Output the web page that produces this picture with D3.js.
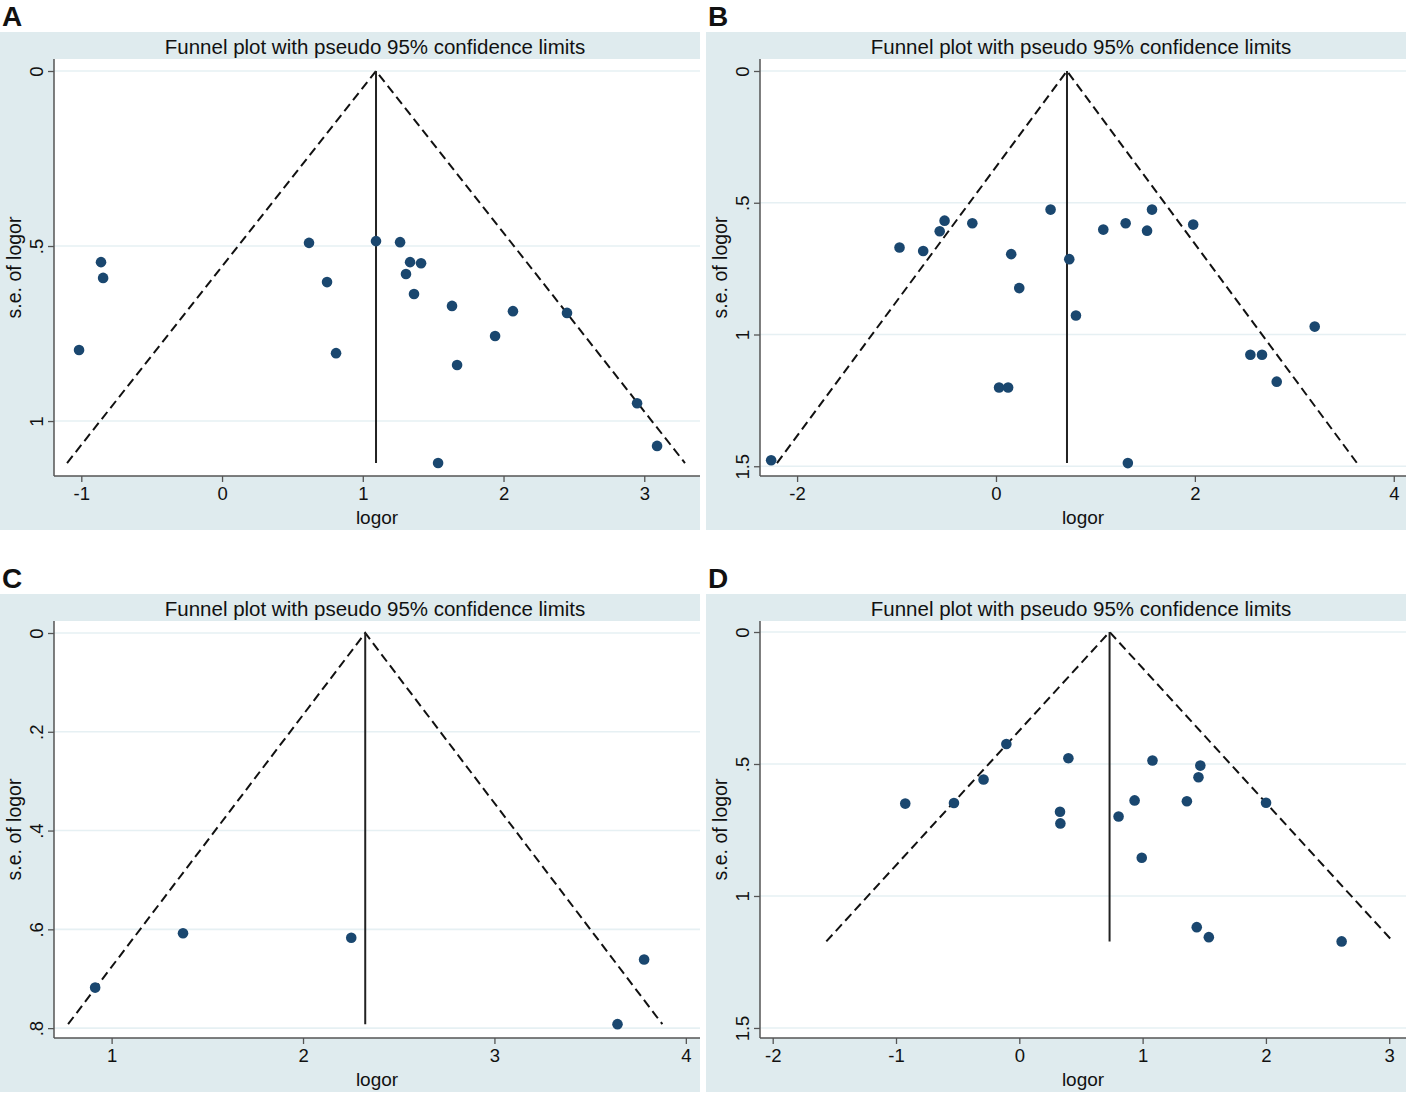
<!DOCTYPE html>
<html>
<head>
<meta charset="utf-8">
<script src="https://cdn.jsdelivr.net/npm/d3@7"></script>
<style>
  body { margin: 0; background: #fff; }
  text { font-family: 'Liberation Sans', Arial, sans-serif; fill: #111; }
</style>
</head>
<body>
<svg id="chart" width="1406" height="1093"></svg>
<script>
// panel A
const aLogor = [-1.016, -0.860, -0.845, 0.618, 0.746, 0.810, 1.094, 1.265, 1.307, 1.336,
	1.414, 1.364, 1.634, 1.670, 1.940, 2.067, 2.451, 2.949, 3.091, 1.535];
const aSe = [0.797, 0.546, 0.591, 0.491, 0.603, 0.806, 0.486, 0.489, 0.580, 0.546,
	0.549, 0.637, 0.671, 0.840, 0.757, 0.686, 0.691, 0.949, 1.071, 1.120];
const aPooled = 1.094;
const aXTicks = [-1, 0, 1, 2, 3];
const aYTicks = [0, 0.5, 1];

// panel B
const bLogor = [-2.261, -0.970, -0.732, -0.566, -0.517, -0.238, 0.153, 0.234, 0.031, 0.122,
	0.549, 0.737, 0.804, 1.079, 1.304, 1.519, 1.569, 1.983, 1.326, 2.558, 2.675, 2.823, 3.205];
const bSe = [1.477, 0.670, 0.683, 0.608, 0.568, 0.578, 0.695, 0.824, 1.201, 1.201,
	0.526, 0.714, 0.928, 0.602, 0.578, 0.606, 0.526, 0.583, 1.488, 1.077, 1.077, 1.179, 0.970];
const bPooled = 0.714;
const bXTicks = [-2, 0, 2, 4];
const bYTicks = [0, 0.5, 1, 1.5];

// panel C
const cLogor = [0.914, 1.373, 2.252, 3.782, 3.643];
const cSe = [0.718, 0.608, 0.617, 0.661, 0.792];
const cPooled = 2.325;
const cXTicks = [1, 2, 3, 4];
const cYTicks = [0, 0.2, 0.4, 0.6, 0.8];

// panel D
const dLogor = [-0.925, -0.530, -0.290, -0.105, 0.398, 0.330, 0.333, 0.805, 0.935, 0.993,
	1.080, 1.468, 1.453, 1.359, 2.001, 1.439, 1.537, 2.614];
const dSe = [0.650, 0.648, 0.559, 0.424, 0.478, 0.681, 0.725, 0.699, 0.638, 0.855,
	0.487, 0.506, 0.550, 0.641, 0.647, 1.118, 1.156, 1.172];
const dPooled = 0.732;
const dXTicks = [-2, -1, 0, 1, 2, 3];
const dYTicks = [0, 0.5, 1, 1.5];

const titleText = 'Funnel plot with pseudo 95% confidence limits';
const xTitle = 'logor';
const yTitle = 's.e. of logor';

const panels = [
	{ label: 'A', x: 0, y: 32, logor: aLogor, se: aSe, pooled: aPooled, xTicks: aXTicks, yTicks: aYTicks,
		xDomain: [-1.194, 3.396], yDomain: [-0.0343, 1.157] },
	{ label: 'B', x: 706, y: 32, logor: bLogor, se: bSe, pooled: bPooled, xTicks: bXTicks, yTicks: bYTicks,
		xDomain: [-2.373, 4.123], yDomain: [-0.0455, 1.537] },
	{ label: 'C', x: 0, y: 594, logor: cLogor, se: cSe, pooled: cPooled, xTicks: cXTicks, yTicks: cYTicks,
		xDomain: [0.699, 4.074], yDomain: [-0.0243, 0.820] },
	{ label: 'D', x: 706, y: 594, logor: dLogor, se: dSe, pooled: dPooled, xTicks: dXTicks, yTicks: dYTicks,
		xDomain: [-2.103, 3.136], yDomain: [-0.0417, 1.538] },
];

const panelW = 700;
const panelH = 498;
const inset = { left: 54, top: 27, bottom: 444 };

const bg = '#dfebee';
const gridColor = '#e6f0f3';
const dotColor = '#1a476f';

const svg = d3.select('#chart');

function fmt(v) {
	// stata style: .5 instead of 0.5
	let s = String(v);
	if (s.startsWith('0.')) s = s.slice(1);
	return s;
}

panels.forEach((p) => {
	const g = svg.append('g').attr('transform', `translate(${p.x},${p.y})`);

	svg.append('text')
		.attr('x', p.x + 2)
		.attr('y', p.y - 6)
		.attr('font-size', 28)
		.attr('font-weight', 'bold')
		.text(p.label);

	g.append('rect')
		.attr('width', panelW)
		.attr('height', panelH)
		.attr('fill', bg);

	const x = d3.scaleLinear().domain(p.xDomain).range([inset.left, panelW]);
	const y = d3.scaleLinear().domain(p.yDomain).range([inset.top, inset.bottom]);

	g.append('rect')
		.attr('x', inset.left)
		.attr('y', inset.top)
		.attr('width', panelW - inset.left)
		.attr('height', inset.bottom - inset.top)
		.attr('fill', '#fff');

	g.append('text')
		.attr('x', (inset.left + panelW) / 2 - 2)
		.attr('y', 14)
		.attr('text-anchor', 'middle')
		.attr('dominant-baseline', 'central')
		.attr('font-size', 20.5)
		.text(titleText);

	// grid
	g.selectAll('.grid')
		.data(p.yTicks)
		.join('line')
		.attr('x1', inset.left)
		.attr('x2', panelW)
		.attr('y1', (d) => y(d))
		.attr('y2', (d) => y(d))
		.attr('stroke', gridColor)
		.attr('stroke-width', 1.6);

	// axes
	const yAxis = d3.axisLeft(y).tickValues(p.yTicks).tickFormat(fmt).tickSize(6).tickPadding(5);
	const xAxis = d3.axisBottom(x).tickValues(p.xTicks).tickFormat(fmt).tickSize(6).tickPadding(5);

	const ya = g.append('g').attr('transform', `translate(${inset.left},0)`).call(yAxis);
	ya.select('.domain').attr('d', `M0,${inset.top}V${inset.bottom}`);
	ya.selectAll('.tick text')
		.attr('font-size', 18.5)
		.attr('font-family', null)
		.attr('text-anchor', 'middle')
		.attr('dominant-baseline', 'central')
		.attr('x', 0)
		.attr('dy', null)
		.attr('transform', 'translate(-18,0) rotate(-90)');

	const xa = g.append('g').attr('transform', `translate(0,${inset.bottom})`).call(xAxis);
	xa.select('.domain').attr('d', `M${inset.left},0H${panelW}`);
	xa.selectAll('.tick text').attr('font-size', 18.5).attr('font-family', null);

	[ya, xa].forEach((a) => {
		a.select('.domain').attr('stroke', '#555').attr('stroke-width', 1.5);
		a.selectAll('.tick line').attr('stroke', '#555').attr('stroke-width', 1.3);
		a.selectAll('.tick text').attr('fill', '#111');
	});

	g.append('text')
		.attr('x', (inset.left + panelW) / 2)
		.attr('y', 485)
		.attr('text-anchor', 'middle')
		.attr('dominant-baseline', 'central')
		.attr('font-size', 19)
		.text(xTitle);

	g.append('text')
		.attr('transform', `translate(14,${(inset.top + inset.bottom) / 2}) rotate(-90)`)
		.attr('text-anchor', 'middle')
		.attr('dominant-baseline', 'central')
		.attr('font-size', 19.5)
		.text(yTitle);

	// funnel
	const seMax = d3.max(p.se);
	const limits = [
		[p.pooled - 1.96 * seMax, seMax],
		[p.pooled, 0],
		[p.pooled + 1.96 * seMax, seMax],
	];
	g.append('path')
		.datum(limits)
		.attr('d', d3.line().x((d) => x(d[0])).y((d) => y(d[1])))
		.attr('fill', 'none')
		.attr('stroke', '#111')
		.attr('stroke-width', 2)
		.attr('stroke-dasharray', '9,5');

	g.append('line')
		.attr('x1', x(p.pooled))
		.attr('x2', x(p.pooled))
		.attr('y1', y(0))
		.attr('y2', y(seMax))
		.attr('stroke', '#222')
		.attr('stroke-width', 2);

	g.selectAll('.dot')
		.data(p.logor.map((v, i) => [v, p.se[i]]))
		.join('circle')
		.attr('cx', (d) => x(d[0]))
		.attr('cy', (d) => y(d[1]))
		.attr('r', 5.3)
		.attr('fill', dotColor);
});
</script>
</body>
</html>
